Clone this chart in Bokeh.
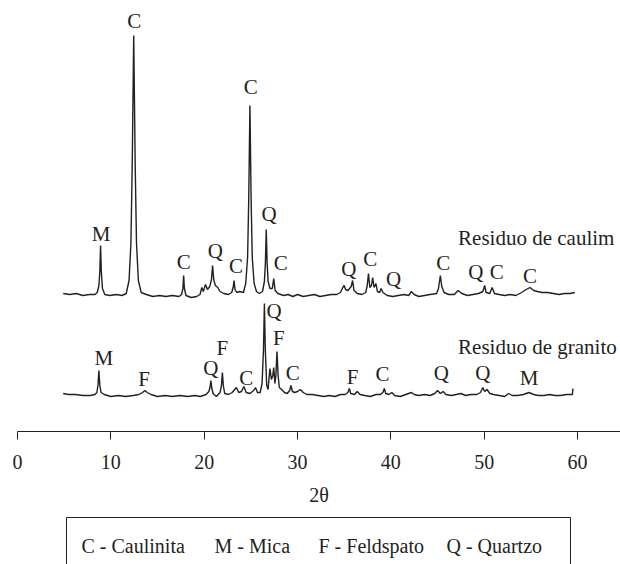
from bokeh.plotting import figure
from bokeh.models import Range1d, FixedTicker, ColumnDataSource
from bokeh.layouts import column
from bokeh.embed import file_html
from bokeh.resources import INLINE
from bokeh.core.properties import value

# ---------------- data ----------------
# 2theta (deg), relative intensity (a.u.) above each trace's baseline
kaolin_pattern = [
    (4.9, 2), (5.6, 1), (6.3, 2), (7.0, 0), (7.7, 1), (8.3, 1), (8.55, 3), (8.72, 10),
    (8.82, 24), (8.9, 50), (8.98, 24), (9.1, 7), (9.35, 1), (9.9, 0), (10.6, 1), (11.2, 0),
    (11.65, 2), (11.95, 15), (12.15, 52), (12.29, 130), (12.45, 260), (12.61, 130),
    (12.75, 52), (12.95, 15), (13.25, 3), (13.8, 1), (14.5, -1), (15.2, 0), (15.9, -1),
    (16.6, 0), (17.3, -1), (17.58, 1), (17.72, 7), (17.8, 20), (17.88, 7), (18.05, 0),
    (18.6, -2), (19.2, -1), (19.55, 1), (19.75, 8), (19.9, 4), (20.15, 11), (20.35, 6),
    (20.6, 9), (20.78, 16), (20.9, 30), (21.02, 16), (21.2, 10), (21.45, 8), (21.7, 4),
    (22.1, 2), (22.6, 1), (22.95, 3), (23.1, 8), (23.2, 15), (23.3, 6), (23.5, 3),
    (23.8, 4), (24.2, 3), (24.45, 12), (24.65, 38), (24.77, 95), (24.9, 190), (25.03, 95),
    (25.15, 38), (25.35, 12), (25.6, 4), (25.9, 2), (26.25, 4), (26.45, 14), (26.56, 33),
    (26.65, 66), (26.74, 33), (26.85, 14), (27.05, 7), (27.3, 7), (27.45, 17), (27.6, 5),
    (27.9, 2), (28.5, 0), (29.0, 1), (29.5, -1), (30.0, 1), (30.6, -1), (31.2, 0),
    (31.8, 1), (32.4, -1), (33.0, 0), (33.6, 1), (34.2, 1), (34.6, 3), (34.85, 8),
    (35.0, 10), (35.15, 6), (35.4, 5), (35.75, 9), (35.9, 15), (36.05, 5), (36.4, 2),
    (36.9, 1), (37.3, 3), (37.47, 10), (37.6, 22), (37.75, 8), (37.92, 10), (38.05, 18),
    (38.2, 8), (38.4, 12), (38.55, 4), (38.8, 3), (38.95, 7), (39.15, 3), (39.6, 0),
    (40.2, -1), (40.8, 0), (41.4, 1), (41.9, 0), (42.2, 4), (42.5, 1), (43.0, -1),
    (43.6, 0), (44.2, 1), (44.9, 2), (45.1, 7), (45.3, 20), (45.45, 9), (45.7, 3),
    (46.2, 1), (46.8, 1), (47.2, 5), (47.6, 2), (48.2, 0), (48.8, 1), (49.4, 2),
    (49.85, 4), (50.05, 10), (50.2, 3), (50.6, 2), (50.85, 8), (51.1, 2), (51.6, 1),
    (52.2, 0), (52.8, 1), (53.4, 0), (54.0, 3), (54.5, 6), (54.9, 8), (55.3, 5),
    (55.7, 4), (56.2, 3), (56.8, 3), (57.4, 2), (58.0, 1), (58.6, 2), (59.2, 2), (59.7, 3),
]

granite_pattern = [
    (4.9, 2), (5.5, 1), (6.2, 1), (7.0, 0), (7.8, 0), (8.3, 1), (8.5, 3), (8.62, 10),
    (8.72, 25), (8.82, 10), (8.95, 3), (9.3, 1), (10.0, -1), (10.8, 0), (11.6, -1),
    (12.4, 0), (13.0, 1), (13.4, 3), (13.65, 5), (13.9, 3), (14.3, 1), (15.0, -1),
    (15.8, 0), (16.6, -1), (17.4, 0), (18.2, -1), (19.0, 0), (19.6, -1), (20.2, 1),
    (20.5, 4), (20.62, 8), (20.72, 15), (20.82, 7), (20.95, 2), (21.3, -1), (21.7, 3),
    (21.85, 10), (21.95, 23), (22.05, 10), (22.2, 2), (22.6, 1), (23.0, 3), (23.45, 8),
    (23.7, 3), (24.0, 4), (24.25, 9), (24.5, 3), (24.9, 2), (25.3, 5), (25.5, 8),
    (25.7, 3), (26.0, 3), (26.2, 12), (26.35, 45), (26.45, 92), (26.55, 45), (26.7, 10),
    (26.85, 6), (26.95, 18), (27.05, 27), (27.2, 16), (27.35, 20), (27.45, 28),
    (27.58, 12), (27.68, 20), (27.8, 44), (27.92, 20), (28.05, 8), (28.3, 6), (28.6, 3),
    (28.9, 2), (29.15, 5), (29.3, 10), (29.45, 4), (29.7, 3), (30.0, 4), (30.3, 6),
    (30.6, 3), (31.0, 1), (31.6, 1), (32.2, 0), (32.8, -1), (33.4, 0), (34.0, -1),
    (34.6, 1), (35.1, 1), (35.4, 3), (35.55, 7), (35.7, 2), (36.1, 1), (36.4, 4),
    (36.7, 1), (37.2, 0), (37.8, -1), (38.4, 1), (38.9, 1), (39.15, 3), (39.3, 7),
    (39.45, 2), (39.8, 1), (40.1, 3), (40.4, 0), (41.0, -1), (41.6, 1), (42.2, 3),
    (42.5, 1), (43.0, 0), (43.6, 1), (44.2, 0), (44.7, 2), (45.0, 5), (45.3, 2),
    (45.6, 4), (45.9, 1), (46.5, 0), (47.0, 1), (47.5, 2), (48.0, 0), (48.6, 1),
    (49.2, 1), (49.6, 3), (49.85, 8), (50.05, 4), (50.3, 6), (50.6, 2), (51.0, 1),
    (51.6, 0), (52.2, -1), (52.6, 2), (53.0, 0), (53.6, 0), (54.2, 1), (54.8, 3),
    (55.3, 1), (55.8, 0), (56.4, 0), (57.0, 1), (57.6, 0), (58.2, 0), (58.8, 1),
    (59.3, 1), (59.45, 1), (59.5, 7),
]

# phase marks: letter, 2theta, height (a.u.) above the trace baseline
kaolin_marks = [
    ("M", 8.95, 62), ("C", 12.5, 275), ("C", 17.8, 34), ("Q", 21.2, 45), ("C", 23.4, 30),
    ("C", 25.0, 209), ("Q", 26.95, 82), ("C", 28.2, 33), ("Q", 35.5, 27), ("C", 37.8, 37),
    ("Q", 40.3, 17), ("C", 45.6, 33), ("Q", 49.1, 24), ("C", 51.35, 24), ("C", 54.9, 20),
]
granite_marks = [
    ("M", 9.25, 38), ("F", 13.55, 17), ("Q", 20.7, 28), ("F", 21.95, 48), ("C", 24.5, 18),
    ("Q", 27.5, 85), ("F", 28.0, 58), ("C", 29.5, 23), ("F", 35.9, 19), ("C", 39.1, 22),
    ("Q", 45.4, 23), ("Q", 49.85, 23), ("M", 54.8, 18),
]

series_names = ["Residuo de caulim", "Residuo de granito"]
x_ticks = [0, 10, 20, 30, 40, 50, 60]
x_title = "2θ"
legend_entries = ["C - Caulinita", "M - Mica", "F - Feldspato", "Q - Quartzo"]

# ---------------- layout / style constants ----------------
INK = "#231f20"
SERIF = "Liberation Serif"
KAOLIN_OFFSET = 136
GRANITE_OFFSET = 36
NAME_X = 47.2
NAME_H = [58, 49]
LEGEND_X = [81, 214, 318, 446]
LEFT = 17

p = figure(width=620, height=512, x_range=Range1d(0, 64.6), y_range=Range1d(0, 431),
           output_backend="svg", toolbar_location=None, y_axis_location=None,
           min_border_left=LEFT, min_border_right=0, min_border_top=0, min_border_bottom=81)
p.outline_line_color = None
p.xgrid.visible = False
p.ygrid.visible = False

for pattern, off in ((kaolin_pattern, KAOLIN_OFFSET), (granite_pattern, GRANITE_OFFSET)):
    xs = [t for t, _ in pattern]
    ys = [v + off for _, v in pattern]
    p.line(xs, ys, line_color=INK, line_width=1.4)

for marks, off in ((kaolin_marks, KAOLIN_OFFSET), (granite_marks, GRANITE_OFFSET)):
    src = ColumnDataSource(dict(x=[m[1] for m in marks], y=[m[2] + off for m in marks],
                                t=[m[0] for m in marks]))
    p.text(x="x", y="y", text="t", source=src, text_font=value(SERIF),
           text_font_size="21px", text_color=INK, text_align="center",
           text_baseline="middle")

p.text(x=[NAME_X, NAME_X], y=[NAME_H[0] + KAOLIN_OFFSET, NAME_H[1] + GRANITE_OFFSET],
       text=series_names, text_font=value(SERIF), text_font_size="21px", text_color=INK,
       text_align="left", text_baseline="middle")

ax = p.xaxis[0]
ax.ticker = FixedTicker(ticks=x_ticks)
ax.axis_line_color = INK
ax.axis_line_width = 1
ax.major_tick_line_color = INK
ax.major_tick_out = 8
ax.major_tick_in = 0
ax.minor_tick_line_color = None
ax.major_label_text_font = SERIF
ax.major_label_text_font_size = "20px"
ax.major_label_text_color = INK
ax.major_label_standoff = 15
ax.axis_label = x_title
ax.axis_label_text_font = SERIF
ax.axis_label_text_font_size = "20px"
ax.axis_label_text_font_style = "normal"
ax.axis_label_text_color = INK
ax.axis_label_standoff = 12

# legend box panel (frame aligned with the main frame, x in page pixels)
q = figure(width=620, height=52, x_range=Range1d(LEFT, 620), y_range=Range1d(0, 52),
           output_backend="svg", toolbar_location=None, x_axis_location=None,
           y_axis_location=None, min_border_left=LEFT, min_border_right=0,
           min_border_top=0, min_border_bottom=0)
q.outline_line_color = None
q.xgrid.visible = False
q.ygrid.visible = False
q.quad(left=[66], right=[570], top=[47], bottom=[-10], fill_color=None,
       line_color=INK, line_width=1)
q.text(x=LEGEND_X, y=[19] * len(legend_entries), text=legend_entries,
       text_font=value(SERIF), text_font_size="20px", text_color=INK,
       text_align="left", text_baseline="middle")

layout = column(p, q, spacing=0)
open("out.html", "w").write(file_html(layout, INLINE))
